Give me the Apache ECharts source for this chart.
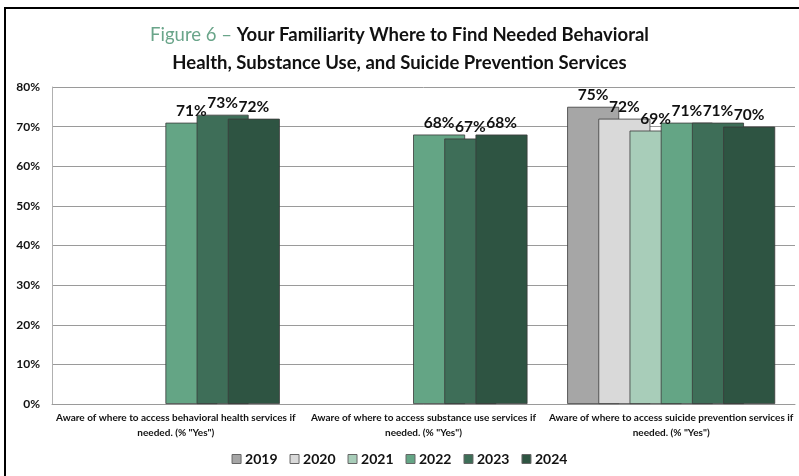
<!DOCTYPE html>
<html>
<head>
<meta charset="utf-8">
<script src="https://cdn.jsdelivr.net/npm/echarts@6/dist/echarts.min.js"></script>
<style>
  html, body { margin: 0; padding: 0; background: #fff; }
  #wrap { position: relative; width: 799px; height: 476px; overflow: hidden; }
  #chart { position: absolute; left: 0; top: 0; width: 799px; height: 476px; }
  #frame { position: absolute; left: 4px; top: 7px; width: 820px; height: 500px;
           border-left: 2.5px solid #000; border-top: 2.5px solid #000; pointer-events: none; }
</style>
</head>
<body>
<div id="wrap">
  <div id="chart"></div>
  <div id="frame"></div>
</div>
<script>
// Survey items (x-axis categories)
const categories = [
  'Aware of where to access behavioral health services if\nneeded. (% "Yes")',
  'Aware of where to access substance use services if\nneeded. (% "Yes")',
  'Aware of where to access suicide prevention services if\nneeded. (% "Yes")'
];

// Survey years and their bar colours
const years = ['2019', '2020', '2021', '2022', '2023', '2024'];
const colors = ['#a6a6a6', '#d9d9d9', '#a8cdb9', '#64a585', '#3e6e58', '#2e5442'];

// Percent answering "Yes" per year (null = item not asked that year)
const v2019 = [null, null, 75];
const v2020 = [null, null, 72];
const v2021 = [null, null, 69];
const v2022 = [71, 68, 71];
const v2023 = [73, 67, 71];
const v2024 = [72, 68, 70];
const seriesValues = [v2019, v2020, v2021, v2022, v2023, v2024];

// Y-axis range in percent
const yMin = 0, yMax = 80, yStep = 10;

const FONT = 'Lato';

const chart = echarts.init(document.getElementById('chart'), null, { renderer: 'canvas' });

const series = years.map((y, i) => ({
  name: y,
  type: 'bar',
  data: seriesValues[i],
  barWidth: 52,
  barGap: '-40%',
  itemStyle: { color: colors[i], borderColor: '#3a3a3a', borderWidth: 0.8 },
  label: {
    show: true,
    position: 'top',
    distance: 4,
    formatter: p => (p.value == null ? '' : p.value + '%'),
    color: '#111',
    fontFamily: FONT,
    fontWeight: 'bold',
    fontSize: 15.5
  }
}));

chart.setOption({
  animation: false,
  title: {
    left: 'center',
    top: 16,
    text: '{a|Figure 6 \u2013 }{b|Your Familiarity Where to Find Needed Behavioral}\n{b|Health, Substance Use, and Suicide Prevention Services}',
    textStyle: {
      rich: {
        a: { fontFamily: FONT, fontSize: 18.5, color: '#6aa58a', fontWeight: 'normal', lineHeight: 28 },
        b: { fontFamily: FONT, fontSize: 18.5, color: '#111', fontWeight: 'bold', lineHeight: 28 }
      }
    }
  },
  legend: {
    bottom: 5,
    left: 'center',
    itemWidth: 9,
    itemHeight: 9,
    itemGap: 12,
    icon: 'rect',
    itemStyle: { borderColor: '#666', borderWidth: 1 },
    textStyle: { fontFamily: FONT, fontWeight: 'bold', fontSize: 14, color: '#111', padding: [0, 0, 0, -1] },
    data: years
  },
  grid: { left: 52, right: 4, top: 87, bottom: 72, containLabel: false },
  xAxis: {
    type: 'category',
    data: categories,
    axisLine: { show: true, lineStyle: { color: '#9a9a9a', width: 1 } },
    axisTick: { show: false },
    axisLabel: {
      interval: 0,
      margin: 6,
      fontFamily: FONT,
      fontWeight: 'bold',
      fontSize: 10,
      lineHeight: 15,
      color: '#111'
    }
  },
  yAxis: {
    type: 'value',
    min: yMin,
    max: yMax,
    interval: yStep,
    axisLine: { show: true, lineStyle: { color: '#b0b0b0', width: 1 } },
    axisTick: { show: false },
    splitLine: { lineStyle: { color: '#9a9a9a', width: 1 } },
    axisLabel: {
      formatter: '{value}%',
      margin: 12,
      fontFamily: FONT,
      fontWeight: 'bold',
      fontSize: 12,
      color: '#111'
    }
  },
  series: series
});
</script>
</body>
</html>
